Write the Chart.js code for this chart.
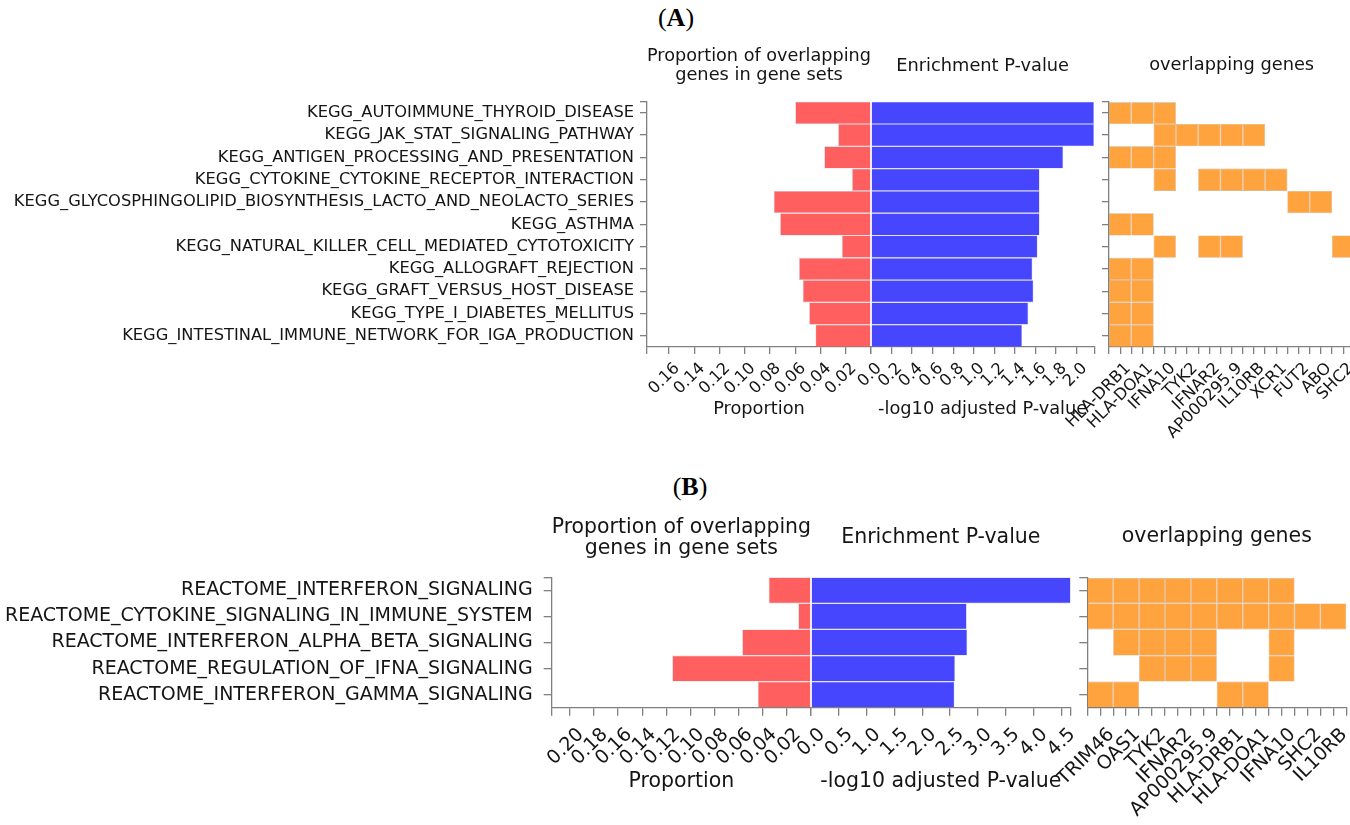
<!DOCTYPE html>
<html>
<head>
<meta charset="utf-8">
<title>Gene set enrichment</title>
<script src="https://cdn.jsdelivr.net/npm/chart.js@4.4.1/dist/chart.umd.min.js"></script>
<style>
  html, body { margin: 0; padding: 0; background: #fff; overflow: hidden; }
  body { width: 1350px; height: 825px; position: relative; }
  .layer { position: absolute; left: 0; top: 0; width: 1400px; height: 825px; pointer-events: none; }
  .panel { position: absolute; transform: translateX(-50%); font-family: 'Liberation Serif', serif; font-size: 26px; line-height: 1; color: #000; }
</style>
</head>
<body>
<div class="panel" style="left:676px; top:5px">(<b>A</b>)</div>
<div class="panel" style="left:690px; top:474px">(<b>B</b>)</div>

<div class="layer"><canvas id="keggProp"></canvas></div>
<div class="layer"><canvas id="keggP"></canvas></div>
<div class="layer"><canvas id="keggHeat"></canvas></div>
<div class="layer"><canvas id="reactProp"></canvas></div>
<div class="layer"><canvas id="reactP"></canvas></div>
<div class="layer"><canvas id="reactHeat"></canvas></div>

<script>
// ---- data: KEGG (panel A) ----
const keggTerms = [
  'KEGG_AUTOIMMUNE_THYROID_DISEASE',
  'KEGG_JAK_STAT_SIGNALING_PATHWAY',
  'KEGG_ANTIGEN_PROCESSING_AND_PRESENTATION',
  'KEGG_CYTOKINE_CYTOKINE_RECEPTOR_INTERACTION',
  'KEGG_GLYCOSPHINGOLIPID_BIOSYNTHESIS_LACTO_AND_NEOLACTO_SERIES',
  'KEGG_ASTHMA',
  'KEGG_NATURAL_KILLER_CELL_MEDIATED_CYTOTOXICITY',
  'KEGG_ALLOGRAFT_REJECTION',
  'KEGG_GRAFT_VERSUS_HOST_DISEASE',
  'KEGG_TYPE_I_DIABETES_MELLITUS',
  'KEGG_INTESTINAL_IMMUNE_NETWORK_FOR_IGA_PRODUCTION'
];
const keggProportion = [0.060, 0.026, 0.037, 0.015, 0.077, 0.072, 0.023, 0.057, 0.054, 0.049, 0.044];
const keggLogP = [2.17, 2.17, 1.87, 1.64, 1.64, 1.64, 1.62, 1.57, 1.58, 1.53, 1.47];
const keggGenes = ['HLA-DRB1', 'HLA-DOA1', 'IFNA10', 'TYK2', 'IFNAR2', 'AP000295.9', 'IL10RB', 'XCR1', 'FUT2', 'ABO', 'SHC2'];
// gene columns hit by each term (index into keggGenes)
const keggHits = [[0, 1, 2], [2, 3, 4, 5, 6], [0, 1, 2], [2, 4, 5, 6, 7], [8, 9], [0, 1], [2, 4, 5, 10], [0, 1], [0, 1], [0, 1], [0, 1]];
const keggPropTicks = [0, 0.02, 0.04, 0.06, 0.08, 0.10, 0.12, 0.14, 0.16];
const keggPropMax = 0.1775;
const keggPTicks = [0, 0.2, 0.4, 0.6, 0.8, 1.0, 1.2, 1.4, 1.6, 1.8, 2.0];
const keggPMax = 2.172;

// ---- data: REACTOME (panel B) ----
const reactTerms = [
  'REACTOME_INTERFERON_SIGNALING',
  'REACTOME_CYTOKINE_SIGNALING_IN_IMMUNE_SYSTEM',
  'REACTOME_INTERFERON_ALPHA_BETA_SIGNALING',
  'REACTOME_REGULATION_OF_IFNA_SIGNALING',
  'REACTOME_INTERFERON_GAMMA_SIGNALING'
];
const reactProportion = [0.035, 0.0105, 0.057, 0.115, 0.044];
const reactLogP = [4.67, 2.80, 2.81, 2.59, 2.58];
const reactGenes = ['TRIM46', 'OAS1', 'TYK2', 'IFNAR2', 'AP000295.9', 'HLA-DRB1', 'HLA-DOA1', 'IFNA10', 'SHC2', 'IL10RB'];
const reactHits = [[0, 1, 2, 3, 4, 5, 6, 7], [0, 1, 2, 3, 4, 5, 6, 7, 8, 9], [1, 2, 3, 4, 7], [2, 3, 4, 7], [0, 1, 5, 6]];
const reactPropTicks = [0, 0.02, 0.04, 0.06, 0.08, 0.10, 0.12, 0.14, 0.16, 0.18, 0.20];
const reactPropMax = 0.215;
const reactPTicks = [0, 0.5, 1.0, 1.5, 2.0, 2.5, 3.0, 3.5, 4.0, 4.5];
const reactPMax = 4.67;

// ---- styles ----
const FONT = "'DejaVu Sans', sans-serif";
const AXIS = '#808080';
const TEXT = '#151515';
const RED = '#ff5f5f';
const BLUE = '#4646ff';
const ORANGE = '#ffa33f';
const W = 1400, H = 825;

function rowTicks(n) {
  // one tick on the top edge, then one at each row centre
  const t = [0];
  for (let i = 0; i < n; i++) t.push(i + 0.5);
  return t;
}
function halfTicks(n) {
  const t = [];
  for (let i = 0; i <= 2 * n; i++) t.push(i / 2);
  return t;
}
function fmt(v, digits) { return v === 0 ? '0.0' : v.toFixed(digits); }
function setTicks(values) { return scale => { scale.ticks = values.map(v => ({ value: v })); }; }
function fixedSize(size) {
  return scale => { if (scale.isHorizontal()) scale.height = size; else scale.width = size; };
}

function titleOpts(lines, size, centerY, areaTop) {
  const lh = size * 1.06;
  const padTop = centerY - lh / 2;
  return {
    display: true, text: lines, fullSize: false, color: TEXT,
    font: { family: FONT, size: size, weight: 'normal', lineHeight: 1.06 },
    padding: { top: padTop, bottom: areaTop - padTop - lines.length * lh }
  };
}

function gridOpts(show, len) {
  return { offset: false, drawOnChartArea: false, drawTicks: show, tickLength: len, color: AXIS, lineWidth: 1.3 };
}

// horizontal bar panel (proportion or p-value)
function barChart(id, o) {
  const n = o.terms.length;
  return new Chart(document.getElementById(id), {
    type: 'bar',
    data: {
      datasets: [{
        data: o.values.map((v, i) => ({ x: v, y: i + 0.5 })),
        backgroundColor: o.color,
        borderColor: 'rgba(130,130,150,0.45)',
        borderWidth: 0.6,
        // the row ticks include the top edge, so the ruler step is half a row
        barPercentage: 2,
        categoryPercentage: 1
      }]
    },
    options: {
      indexAxis: 'y',
      responsive: true, maintainAspectRatio: false, animation: false,
      events: [],
      layout: { padding: { left: o.left - o.yw, right: W - o.right, top: 0, bottom: H - o.bottom - o.xh } },
      plugins: {
        legend: { display: false },
        tooltip: { enabled: false },
        title: titleOpts(o.title, o.titleSize, o.titleY, o.top)
      },
      scales: {
        x: {
          type: 'linear', min: 0, max: o.max, reverse: o.reverse, offset: false,
          afterBuildTicks: setTicks(o.ticks.concat([o.max])),
          afterFit: fixedSize(o.xh),
          border: { color: AXIS, width: 1.3 },
          grid: gridOpts(true, o.tickLen),
          ticks: {
            autoSkip: false, minRotation: 45, maxRotation: 45, padding: o.tickPad, labelOffset: o.labelShift,
            color: TEXT, font: { family: FONT, size: o.tickSize },
            // the shared 0.0 label is printed once, by the p-value axis
            callback: v => (v === o.max || (o.reverse && v === 0)) ? '' : fmt(v, o.digits)
          },
          title: { display: true, text: o.xTitle, color: TEXT, font: { family: FONT, size: o.titleSize, lineHeight: 1.06 }, padding: 0 }
        },
        y: {
          type: 'linear', min: 0, max: n, reverse: true, offset: false,
          afterBuildTicks: setTicks(rowTicks(n)),
          afterFit: fixedSize(o.yw),
          border: { display: o.yAxis, color: AXIS, width: 1.3 },
          grid: gridOpts(o.yAxis, o.tickLen),
          ticks: {
            display: o.yAxis, autoSkip: false, padding: o.labelPad,
            color: TEXT, font: { family: FONT, size: o.labelSize },
            callback: v => Number.isInteger(v) ? '' : o.terms[Math.floor(v)]
          }
        }
      }
    }
  });
}

// overlapping-genes matrix drawn as floating bars
function heatChart(id, o) {
  const n = o.hits.length;
  const m = o.genes.length;
  const cells = [];
  o.hits.forEach((cols, r) => cols.forEach(c => cells.push({ x: c + 0.5, y: [r, r + 1] })));
  return new Chart(document.getElementById(id), {
    type: 'bar',
    data: {
      datasets: [{
        data: cells,
        backgroundColor: ORANGE,
        borderColor: 'rgba(160,95,40,0.55)',
        borderWidth: 0.6,
        borderSkipped: false,
        barPercentage: 2,
        categoryPercentage: 1
      }]
    },
    options: {
      responsive: true, maintainAspectRatio: false, animation: false,
      events: [],
      layout: { padding: { left: o.left - o.tickLen, right: W - (o.left + m * o.cell), top: 0, bottom: H - o.bottom - o.xh } },
      plugins: {
        legend: { display: false },
        tooltip: { enabled: false },
        title: titleOpts(['overlapping genes'], o.titleSize, o.titleY, o.top)
      },
      scales: {
        x: {
          type: 'linear', min: 0, max: m, offset: false,
          afterBuildTicks: setTicks(halfTicks(m)),
          afterFit: fixedSize(o.xh),
          border: { color: AXIS, width: 1.3 },
          grid: gridOpts(true, o.tickLen),
          ticks: {
            autoSkip: false, minRotation: 45, maxRotation: 45, padding: o.tickPad, labelOffset: o.labelShift,
            color: TEXT, font: { family: FONT, size: o.tickSize },
            callback: v => (v % 1 === 0.5) ? o.genes[Math.floor(v)] : ''
          }
        },
        y: {
          type: 'linear', min: 0, max: n, reverse: true, offset: false,
          afterBuildTicks: setTicks(rowTicks(n)),
          afterFit: fixedSize(o.tickLen),
          border: { color: AXIS, width: 1.3 },
          grid: gridOpts(true, o.tickLen),
          ticks: { display: false }
        }
      }
    }
  });
}

// ---- panel A ----
const A = { top: 101.7, bottom: 347, labelSize: 16.3, labelPad: 6, tickSize: 16.3, tickPad: 5, tickLen: 7, titleSize: 17.8, xh: 72.3, labelShift: 8 };
const propTitle = ['Proportion of overlapping', 'genes in gene sets'];

barChart('keggProp', Object.assign({}, A, {
  terms: keggTerms, values: keggProportion, ticks: keggPropTicks, max: keggPropMax, digits: 2,
  reverse: true, color: RED, left: 647, right: 871, yw: 647, yAxis: true,
  title: propTitle, titleY: 56.7, xTitle: 'Proportion'
}));
barChart('keggP', Object.assign({}, A, {
  terms: keggTerms, values: keggLogP, ticks: keggPTicks, max: keggPMax, digits: 1,
  reverse: false, color: BLUE, left: 871, right: 1094.3, yw: 0, yAxis: false,
  title: ['Enrichment P-value'], titleY: 66, xTitle: '-log10 adjusted P-value'
}));
heatChart('keggHeat', Object.assign({}, A, {
  genes: keggGenes, hits: keggHits, left: 1109, cell: 22.3, titleY: 65, xh: 120
}));

// ---- panel B ----
const B = { top: 577.3, bottom: 707.7, labelSize: 19, labelPad: 11, tickSize: 19, tickPad: 8, tickLen: 8, titleSize: 20.5, xh: 84.9, labelShift: 11 };

barChart('reactProp', Object.assign({}, B, {
  terms: reactTerms, values: reactProportion, ticks: reactPropTicks, max: reactPropMax, digits: 2,
  reverse: true, color: RED, left: 551.7, right: 811, yw: 551.7, yAxis: true,
  title: propTitle, titleY: 527.4, xTitle: 'Proportion'
}));
barChart('reactP', Object.assign({}, B, {
  terms: reactTerms, values: reactLogP, ticks: reactPTicks, max: reactPMax, digits: 1,
  reverse: false, color: BLUE, left: 811, right: 1070.7, yw: 0, yAxis: false,
  title: ['Enrichment P-value'], titleY: 538, xTitle: '-log10 adjusted P-value'
}));
heatChart('reactHeat', Object.assign({}, B, {
  genes: reactGenes, hits: reactHits, left: 1087.3, cell: 25.9, titleY: 537, xh: 110
}));
</script>
</body>
</html>
